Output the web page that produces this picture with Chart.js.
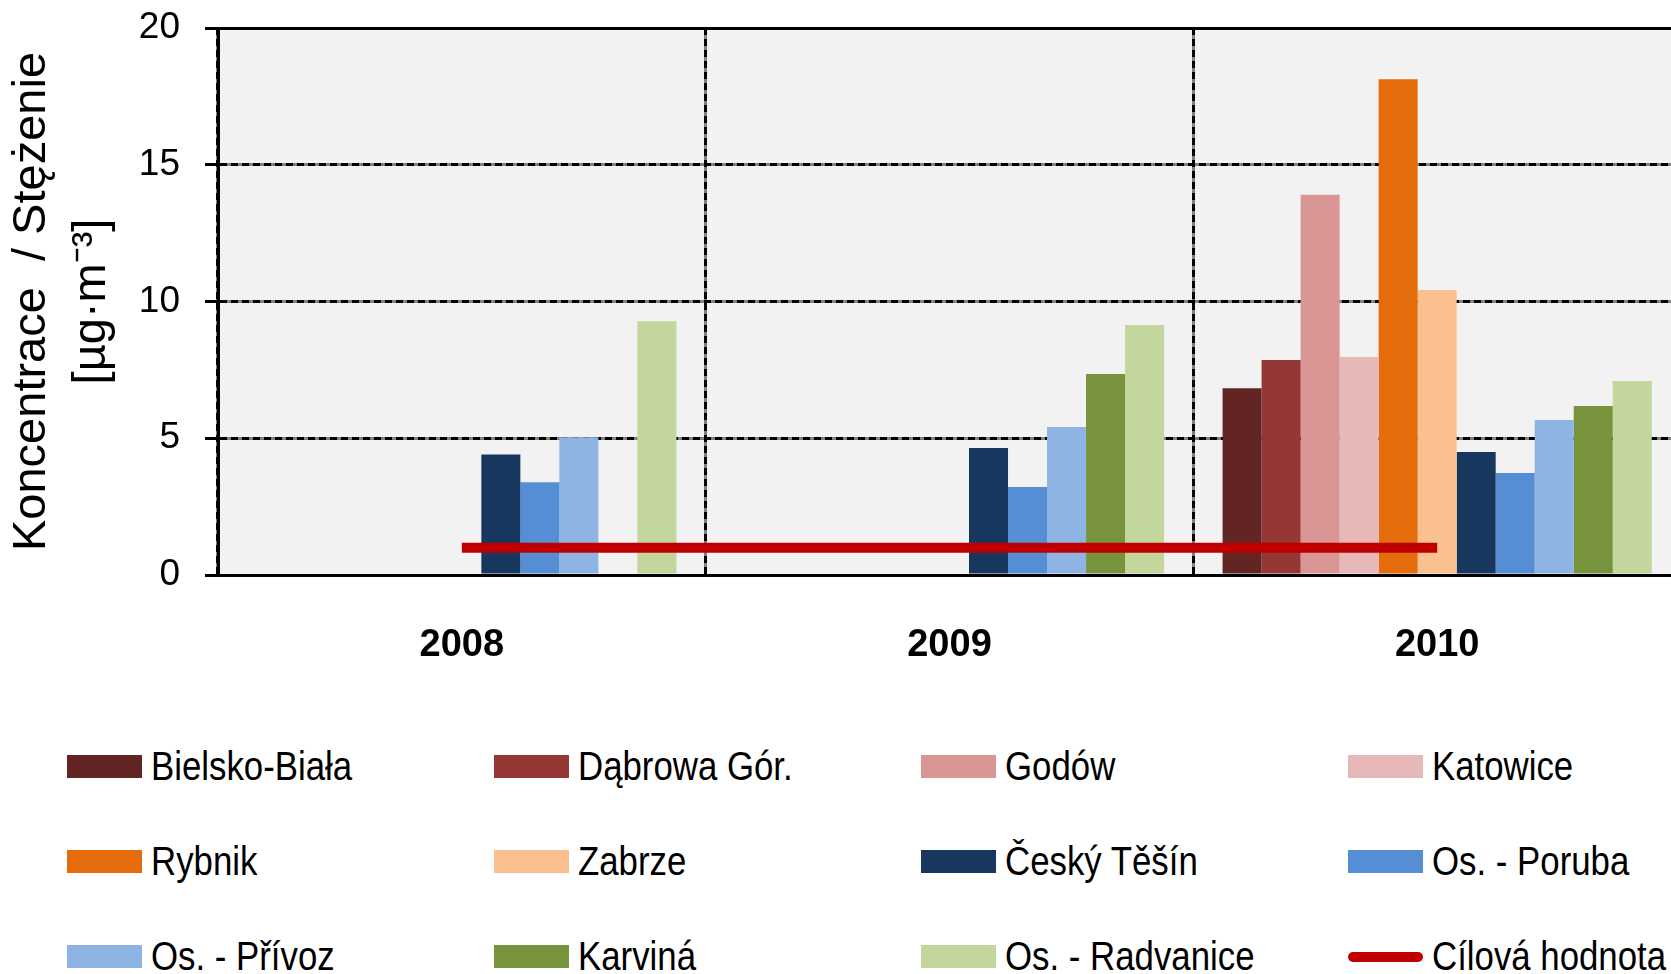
<!DOCTYPE html>
<html lang="cs">
<head>
<meta charset="utf-8">
<title>Koncentrace / Stężenie</title>
<script src="https://cdn.jsdelivr.net/npm/chart.js@4/dist/chart.umd.min.js"></script>
<style>
  body {
    margin: 0;
    background: #fff;
    overflow: hidden;
    width: 1671px;
    height: 974px;
  }
  #wrap {
    position: absolute;
    left: 0;
    top: 0;
    width: 1700px;
    height: 690px;
  }
  #legend {
    position: absolute;
    left: 67px;
    top: 719px;
    display: grid;
    grid-template-columns: repeat(4, 427px);
    grid-auto-rows: 95px;
    font-family: "Liberation Sans", Arial, sans-serif;
    font-size: 40px;
    color: #000;
  }
  .item {
    display: flex;
    align-items: center;
    white-space: nowrap;
  }
  .swatch {
    width: 75px;
    height: 23px;
    margin-right: 9px;
    flex: none;
  }
  .swatch.line {
    height: 10px;
    border-radius: 5px;
  }
  /* narrow lettering */
  .txt {
    display: inline-block;
    transform: scaleX(0.87);
    transform-origin: 0 50%;
  }
</style>
</head>
<body>
<div id="wrap"><canvas id="chart"></canvas></div>
<div id="legend"></div>

<script>
const years = ["2008", "2009", "2010"];

// µg/m3 per station and year, null = no measurement
const bielskoBiala = [null, null, 6.83];
const dabrowaGor = [null, null, 7.86];
const godow = [null, null, 13.9];
const katowice = [null, null, 7.97];
const rybnik = [null, null, 18.13];
const zabrze = [null, null, 10.42];
const ceskyTesin = [4.41, 4.64, 4.5];
const osPoruba = [3.39, 3.22, 3.73];
const osPrivoz = [5.04, 5.41, 5.67];
const karvina = [null, 7.35, 6.18];
const osRadvanice = [9.28, 9.14, 7.09];
const cilovaHodnota = [1, 1, 1];

const stationNames = [
  "Bielsko-Biała", "Dąbrowa Gór.", "Godów", "Katowice",
  "Rybnik", "Zabrze", "Český Těšín", "Os. - Poruba",
  "Os. - Přívoz", "Karviná", "Os. - Radvanice",
];
const stationValues = [
  bielskoBiala, dabrowaGor, godow, katowice,
  rybnik, zabrze, ceskyTesin, osPoruba,
  osPrivoz, karvina, osRadvanice,
];
const stationColors = [
  "#632523", "#953735", "#D99694", "#E6B9B8",
  "#E46C0A", "#FAC090", "#17375E", "#558ED5",
  "#8EB4E3", "#77933C", "#C3D69B",
];
const targetName = "Cílová hodnota";
const targetColor = "#C00000";

const yMin = 0;
const yMax = 20;
const yStep = 5;

const baseFont = "'Liberation Sans', Arial, sans-serif";

// grey plot area, grey under the dashed grid and a solid top edge
const plotBackground = {
  id: "plotBackground",
  beforeDraw(chart) {
    const { ctx, chartArea: a, scales } = chart;
    const x = scales.x;
    const y = scales.y;
    const align = (p) => Math.round(p - 1.5) + 1.5;
    ctx.save();
    ctx.fillStyle = "#F2F2F2";
    ctx.fillRect(a.left, a.top, a.right - a.left, a.bottom - a.top);

    ctx.strokeStyle = "#808080";
    ctx.lineWidth = 3;
    ctx.beginPath();
    y.ticks.forEach((t, i) => {
      const py = align(y.getPixelForTick(i));
      ctx.moveTo(a.left, py);
      ctx.lineTo(a.right, py);
    });
    const half = (x.getPixelForValue(1) - x.getPixelForValue(0)) / 2;
    x.ticks.forEach((t, i) => {
      const px = align(x.getPixelForTick(i) - half);
      ctx.moveTo(px, a.top);
      ctx.lineTo(px, a.bottom);
    });
    ctx.stroke();

    ctx.strokeStyle = "#000";
    ctx.beginPath();
    ctx.moveTo(a.left - 13, align(a.top));
    ctx.lineTo(a.right, align(a.top));
    ctx.stroke();
    ctx.restore();
  },
};

const barSets = stationNames.map((name, i) => ({
  type: "bar",
  label: name,
  data: stationValues[i],
  backgroundColor: stationColors[i],
  borderWidth: 0,
  order: 1,
}));

const targetSet = {
  type: "line",
  label: targetName,
  data: cilovaHodnota,
  borderColor: targetColor,
  backgroundColor: targetColor,
  borderWidth: 10,
  pointRadius: 0,
  fill: false,
  order: 0,
};

new Chart(document.getElementById("chart"), {
  type: "bar",
  data: {
    labels: years,
    datasets: [...barSets, targetSet],
  },
  options: {
    responsive: true,
    maintainAspectRatio: false,
    animation: false,
    categoryPercentage: 0.88,
    barPercentage: 1.0,
    layout: {
      padding: { left: 0, top: 28, right: 19, bottom: 0 },
    },
    plugins: {
      legend: { display: false },
      tooltip: { enabled: false },
    },
    scales: {
      x: {
        offset: true,
        grid: {
          offset: true,
          color: "#000",
          lineWidth: 3,
          drawTicks: false,
        },
        border: { display: true, color: "#000", width: 3, dash: [7, 4] },
        ticks: {
          color: "#000",
          padding: 48,
          font: { family: baseFont, size: 38, weight: "bold" },
        },
        afterFit(scale) {
          scale.height = 115;
        },
      },
      y: {
        min: yMin,
        max: yMax,
        ticks: {
          stepSize: yStep,
          color: "#000",
          padding: 25,
          font: { family: baseFont, size: 37 },
        },
        grid: {
          color: "#000",
          lineWidth: 3,
          tickLength: 13,
          tickWidth: 3,
          tickColor: "#000",
          tickBorderDash: [],
        },
        border: { display: true, color: "#000", width: 3, dash: [7, 4] },
        title: {
          display: true,
          text: ["Koncentrace  / Stężenie", "[µg·m⁻³]"],
          color: "#000",
          padding: { top: 2, bottom: 0 },
          font: { family: baseFont, size: 47, lineHeight: 1.28 },
        },
        afterFit(scale) {
          scale.width = 218;
          // keep the plot top fixed, the "20" label may stick out above it
          scale.paddingTop = 0;
          scale.paddingBottom = 0;
        },
      },
    },
  },
  plugins: [plotBackground],
});

// legend in four columns
const legendEl = document.getElementById("legend");
stationNames.forEach((name, i) => {
  const item = document.createElement("div");
  item.className = "item";
  item.innerHTML = `<span class="swatch" style="background:${stationColors[i]}"></span><span class="txt">${name}</span>`;
  legendEl.appendChild(item);
});
const targetItem = document.createElement("div");
targetItem.className = "item";
targetItem.innerHTML = `<span class="swatch line" style="background:${targetColor}"></span><span class="txt">${targetName}</span>`;
legendEl.appendChild(targetItem);
</script>
</body>
</html>
